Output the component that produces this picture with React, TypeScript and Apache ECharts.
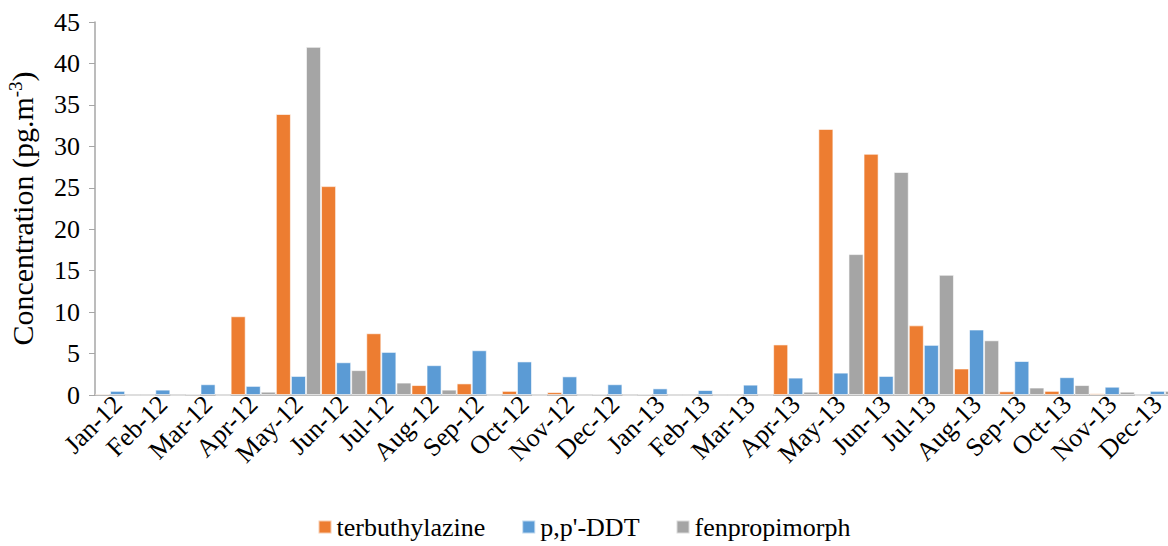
import React, { useEffect, useRef } from "react";
import * as echarts from "echarts";

const categories = [
  "Jan-12", "Feb-12", "Mar-12", "Apr-12", "May-12", "Jun-12", "Jul-12", "Aug-12", "Sep-12", "Oct-12", "Nov-12", "Dec-12",
  "Jan-13", "Feb-13", "Mar-13", "Apr-13", "May-13", "Jun-13", "Jul-13", "Aug-13", "Sep-13", "Oct-13", "Nov-13", "Dec-13",
];
const terbuthylazine = [0.15, 0, 0.05, 9.5, 33.9, 25.2, 7.45, 1.2, 1.4, 0.5, 0.35, 0.05, 0.05, 0, 0, 6.1, 32.1, 29.1, 8.4, 3.2, 0.45, 0.5, 0.2, 0];
const ppDDT = [0.5, 0.65, 1.3, 1.1, 2.3, 3.95, 5.2, 3.6, 5.4, 4.05, 2.25, 1.3, 0.8, 0.6, 1.25, 2.1, 2.7, 2.3, 6.05, 7.9, 4.1, 2.15, 1.0, 0.5];
const fenpropimorph = [0, 0, 0, 0.4, 42, 3.0, 1.5, 0.65, 0, 0, 0, 0, 0, 0, 0, 0.4, 17.0, 26.9, 14.5, 6.6, 0.9, 1.2, 0.4, 0.5];
const seriesNames = ["terbuthylazine", "p,p'-DDT", "fenpropimorph"];
const colors = ["#ED7D31", "#5B9BD5", "#A5A5A5"];

const FONT = "Liberation Serif";

export default function App() {
  const ref = useRef<HTMLDivElement>(null);
  useEffect(() => {
    if (!ref.current) return;
    const chart = echarts.init(ref.current, null, { renderer: "svg" });
    const data = [terbuthylazine, ppDDT, fenpropimorph];
    chart.setOption({
      animation: false,
      textStyle: { fontFamily: FONT },
      grid: { left: 95, right: -12, top: 22, bottom: 151, containLabel: false, outerBoundsMode: "none" },
      legend: {
        bottom: 1,
        left: "center",
        itemWidth: 13,
        itemHeight: 13,
        itemGap: 36,
        icon: "rect",
        textStyle: { fontFamily: FONT, fontSize: 26, color: "#000" },
        data: seriesNames,
      },
      xAxis: {
        type: "category",
        data: categories,
        axisLine: { lineStyle: { color: "#A6A6A6", width: 1.5 } },
        axisTick: { show: false },
        axisLabel: {
          rotate: 45,
          interval: 0,
          fontFamily: FONT,
          fontSize: 26,
          color: "#000",
          margin: 5,
          hideOverlap: false,
        },
      },
      yAxis: {
        type: "value",
        min: 0,
        max: 45,
        interval: 5,
        name: "Concentration (pg.m{sup|-3})",
        nameLocation: "middle",
        nameRotate: 90,
        nameGap: 57,
        nameTextStyle: {
          fontFamily: FONT,
          fontSize: 30,
          color: "#000",
          rich: {
            sup: { fontFamily: FONT, fontSize: 19, color: "#000", verticalAlign: "top", padding: [0, 0, 13, 0] },
          },
        },
        axisLine: { show: true, lineStyle: { color: "#A6A6A6", width: 1.5 } },
        axisTick: { show: true, length: 6, lineStyle: { color: "#A6A6A6" } },
        splitLine: { show: false },
        axisLabel: { fontFamily: FONT, fontSize: 26, color: "#000", margin: 15 },
      },
      series: seriesNames.map((name, i) => ({
        name,
        type: "bar",
        data: data[i],
        barGap: "0%",
        barCategoryGap: "0%",
        itemStyle: { color: colors[i], borderColor: "rgba(255,255,255,0.6)", borderWidth: 1 },
      })),
    });
    return () => chart.dispose();
  }, []);
  return (
    <div
      ref={ref}
      style={{ position: "fixed", left: 0, top: 0, width: 1168, height: 546, background: "#fff" }}
    />
  );
}
